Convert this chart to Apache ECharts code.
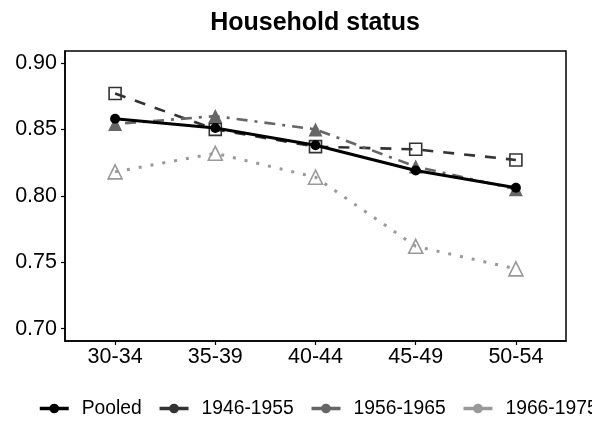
<!DOCTYPE html>
<html>
<head>
<meta charset="utf-8">
<script src="https://cdn.jsdelivr.net/npm/echarts@6/dist/echarts.min.js"></script>
<style>
  html, body { margin: 0; padding: 0; background: #fff; }
  #chart { width: 592px; height: 421px; }
</style>
</head>
<body>
<div id="chart"></div>
<script>
// Age groups on the x axis
const ageGroups = ['30-34', '35-39', '40-44', '45-49', '50-54'];

// Share by age group, one list per line
const pooled    = [0.858, 0.851, 0.838, 0.819, 0.806];
const cohort4655 = [0.877, 0.850, 0.837, 0.835, 0.827];
const cohort5665 = [0.854, 0.860, 0.850, 0.822, 0.805];
const cohort6675 = [0.818, 0.832, 0.814, 0.762, 0.745];

const seriesNames = ['Pooled', '1946-1955', '1956-1965', '1966-1975'];
const yTicks = [0.70, 0.75, 0.80, 0.85, 0.90];

const FONT = 'Liberation Sans, Arial, sans-serif';

// Each point gets its own marker; hollow markers stay see-through so lines show inside them
function points(values, symbol, size, color, hollow) {
  return values.map(v => ({
    value: v,
    symbol: symbol,
    symbolSize: size,
    itemStyle: hollow
      ? { color: 'rgba(255,255,255,0)', borderColor: color, borderWidth: 1.6 }
      : { color: color, borderWidth: 0 }
  }));
}

const chart = echarts.init(document.getElementById('chart'), null, { renderer: 'canvas' });

chart.setOption({
  animation: false,
  backgroundColor: '#fff',
  title: {
    text: 'Household status',
    left: 310,
    top: 6,
    textAlign: 'center',
    textStyle: { fontFamily: FONT, fontSize: 25, fontWeight: 'bold', color: '#000' }
  },
  legend: {
    data: seriesNames,
    left: 38,
    top: 399,
    width: 900,
    padding: 0,
    itemWidth: 29,
    itemHeight: 12,
    itemGap: 16,
    lineStyle: { type: 'solid', width: 3.5 },
    textStyle: { fontFamily: FONT, fontSize: 19.3, color: '#000', padding: [0, 0, 0, 8] }
  },
  grid: {
    left: 65, top: 51, width: 501, height: 290,
    show: true, borderColor: '#000', borderWidth: 1.5, containLabel: false
  },
  xAxis: {
    type: 'category',
    data: ageGroups,
    boundaryGap: true,
    axisLine: { show: true, lineStyle: { color: '#000', width: 1.5 } },
    axisTick: { show: true, alignWithLabel: true, length: 4, inside: false, lineStyle: { color: '#000', width: 1.2 } },
    axisLabel: { fontFamily: FONT, fontSize: 21.5, color: '#000', margin: 5 },
    splitLine: { show: false }
  },
  yAxis: {
    type: 'value',
    min: 0.6907,
    max: 0.9090,
    axisLine: { show: true, lineStyle: { color: '#000', width: 1.5 } },
    axisTick: { show: true, length: 4, customValues: yTicks, lineStyle: { color: '#000', width: 1.2 } },
    axisLabel: {
      fontFamily: FONT, fontSize: 21.5, color: '#000', margin: 8,
      customValues: yTicks,
      formatter: v => v.toFixed(2)
    },
    splitLine: { show: false }
  },
  series: [
    {
      name: 'Pooled', type: 'line', z: 5,
      symbol: 'circle', symbolSize: 10,
      itemStyle: { color: '#000' },
      lineStyle: { color: '#000', width: 3, type: 'solid' },
      data: points(pooled, 'circle', 10, '#000', false)
    },
    {
      name: '1946-1955', type: 'line', z: 3,
      symbol: 'circle', symbolSize: 10,
      itemStyle: { color: '#333' },
      lineStyle: { color: '#333', width: 2.6, type: [11, 10], cap: 'butt' },
      data: points(cohort4655, 'rect', 12, '#333', true)
    },
    {
      name: '1956-1965', type: 'line', z: 4,
      symbol: 'circle', symbolSize: 10,
      itemStyle: { color: '#666' },
      lineStyle: { color: '#666', width: 2.6, type: [3, 7, 11, 7], cap: 'butt' },
      data: points(cohort5665, 'triangle', 14, '#666', false)
    },
    {
      name: '1966-1975', type: 'line', z: 2,
      symbol: 'circle', symbolSize: 10,
      itemStyle: { color: '#999' },
      lineStyle: { color: '#999', width: 3, type: [3, 9], cap: 'butt' },
      data: points(cohort6675, 'triangle', 14, '#999', true)
    }
  ]
});
</script>
</body>
</html>
